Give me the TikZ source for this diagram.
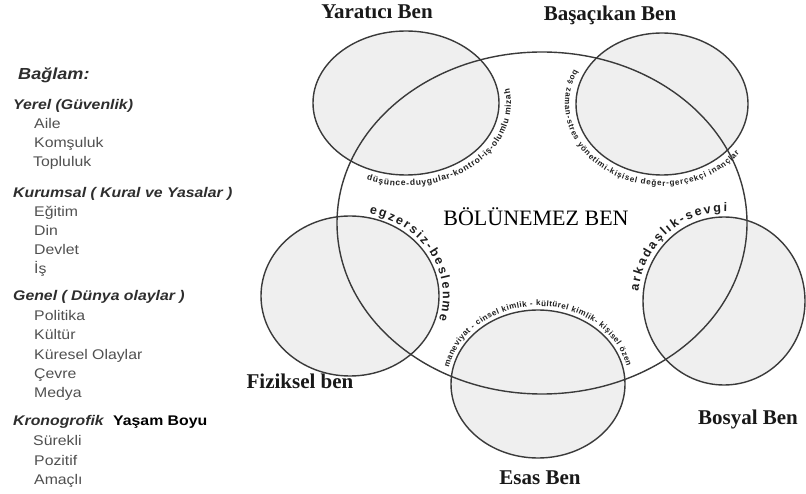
\documentclass[tikz,border=0pt]{standalone}
\usepackage{fontspec}
\setmainfont{Liberation Serif}
\newfontfamily\lsans[FakeStretch=1.13]{Liberation Sans}
\newfontfamily\csans{Liberation Sans}
\usetikzlibrary{decorations.text}
\definecolor{ellfill}{HTML}{EFEFEF}
\definecolor{ellline}{HTML}{3A3A3A}
\definecolor{headc}{HTML}{2E2E2E}
\definecolor{itemc}{HTML}{505050}
\definecolor{curvec}{HTML}{1E1E1E}
\begin{document}
\begin{tikzpicture}[x=1pt,y=-1pt,
  lbl/.style={font=\fontsize{21}{24}\selectfont\bfseries, text=black!90, inner sep=0pt},
  head/.style={anchor=west, inner sep=0pt, text height=10pt, text depth=3pt, font=\lsans\fontsize{14}{16}\selectfont\bfseries\itshape, text=headc},
  item/.style={anchor=west, inner sep=0pt, text height=10pt, text depth=3pt, font=\lsans\fontsize{14}{16}\selectfont, text=itemc},
  small/.style={fill=ellfill},
  ell/.style={draw=ellline, line width=1.4pt},
]
\useasboundingbox (0,0) rectangle (806,494);
\fill[white] (0,0) rectangle (806,494);

% small ellipses fills
\fill[small] (406,103) ellipse [x radius=93, y radius=72];
\fill[small] (662,104) ellipse [x radius=86, y radius=71];
\fill[small] (350,296) ellipse [x radius=89, y radius=80];
\fill[small] (724,301) ellipse [x radius=81, y radius=84];
\fill[small] (538,384) ellipse [x radius=87, y radius=74];

% outlines
\draw[ell] (406,103) ellipse [x radius=93, y radius=72];
\draw[ell] (662,104) ellipse [x radius=86, y radius=71];
\draw[ell] (350,296) ellipse [x radius=89, y radius=80];
\draw[ell] (724,301) ellipse [x radius=81, y radius=84];
\draw[ell] (538,384) ellipse [x radius=87, y radius=74];
\draw[ell] (542,223) ellipse [x radius=205, y radius=171];

% curved texts
\path[decorate, decoration={text along path, text align={fit to path},
  text={|\csans\fontsize{8.5}{10}\selectfont\bfseries\color{curvec}|düşünce-duygular-kontrol-iş-olumlu mizah}}]
  (406,103) ++(112:105 and 83) arc[start angle=112, end angle=-10, x radius=105, y radius=83];
\path[decorate, decoration={text along path, text align={fit to path},
  text={|\csans\fontsize{8}{10}\selectfont\bfseries\color{curvec}|boş zaman-stres yönetimi-kişisel değer-gerçekçi inançlar}}]
  (662,104) ++(205:97 and 82) arc[start angle=205, end angle=37, x radius=97, y radius=82];
\path[decorate, decoration={text along path, text align={fit to path},
  text={|\csans\fontsize{12.5}{14}\selectfont\bfseries\color{curvec}|egzersiz-beslenme}}]
  (350,296) ++(-78:93 and 84) arc[start angle=-78, end angle=17, x radius=93, y radius=84];
\path[decorate, decoration={text along path, text align={fit to path},
  text={|\csans\fontsize{12.5}{14}\selectfont\bfseries\color{curvec}|arkadaşlık-sevgi}}]
  (724,301) ++(-174:86 and 89) arc[start angle=-174, end angle=-88, x radius=86, y radius=89];
\path[decorate, decoration={text along path, text align={fit to path},
  text={|\csans\fontsize{8}{10}\selectfont\bfseries\color{curvec}|maneviyat - cinsel kimlik - kültürel kimlik- kişisel özen}}]
  (538,384) ++(-168:91 and 78) arc[start angle=-168, end angle=-13, x radius=91, y radius=78];

% labels
\node[inner sep=0pt, font=\fontsize{22}{24}\selectfont] (center) at (536,217) {BÖLÜNEMEZ BEN};
\node[lbl] (yar) at (377,12) {Yaratıcı Ben};
\node[lbl] (bas) at (610,15) {Başaçıkan Ben};
\node[lbl] (fiz) at (300,381) {Fiziksel ben};
\node[lbl] (bos) at (748,419) {Bosyal Ben};
\node[lbl] (esa) at (540,478) {Esas Ben};

% left list
\node[head, font=\lsans\fontsize{16}{18}\selectfont\bfseries\itshape] (bag) at (18,76) {Bağlam:};
\node[head] (h1) at (13,106) {Yerel (Güvenlik)};
\node[item] (i11) at (34,125) {Aile};
\node[item] (i12) at (34,144) {Komşuluk};
\node[item] (i13) at (33,163) {Topluluk};
\node[head] (h2) at (13,194) {Kurumsal ( Kural ve Yasalar )};
\node[item] (i21) at (34,213) {Eğitim};
\node[item] (i22) at (34,232) {Din};
\node[item] (i23) at (34,251) {Devlet};
\node[item] (i24) at (34,270) {İş};
\node[head] (h3) at (13,297) {Genel ( Dünya olaylar )};
\node[item] (i31) at (34,317) {Politika};
\node[item] (i32) at (34,336) {Kültür};
\node[item] (i33) at (34,356) {Küresel Olaylar};
\node[item] (i34) at (34,375) {Çevre};
\node[item] (i35) at (34,394) {Medya};
\node[head] (h4) at (13,422) {Kronogrofik};
\node[head, font=\lsans\fontsize{14}{16}\selectfont\bfseries, text=black] (h4b) at (113,422) {Yaşam Boyu};
\node[item] (i41) at (33,442) {Sürekli};
\node[item] (i42) at (34,462) {Pozitif};
\node[item] (i43) at (34,481) {Amaçlı};
\end{tikzpicture}
\end{document}
